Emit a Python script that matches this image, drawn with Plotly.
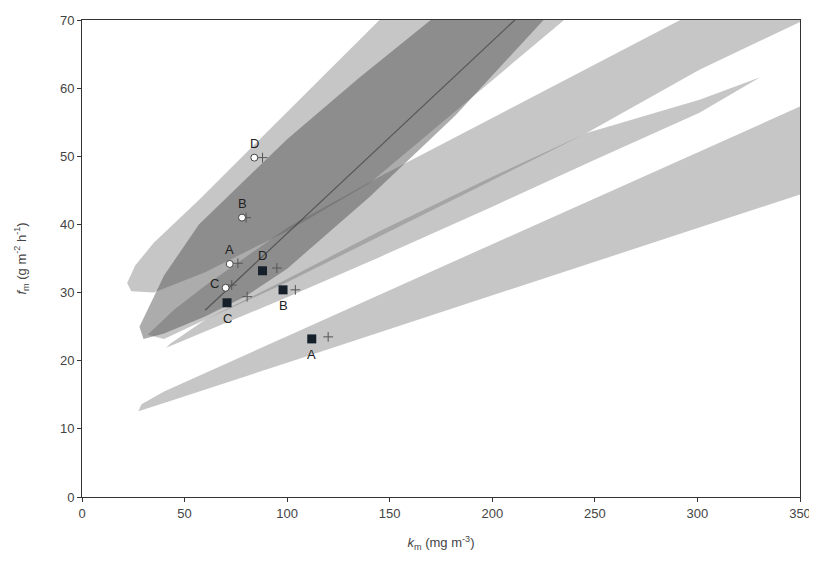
import plotly.graph_objects as go

# ---- shaded bands (outline vertices, data units) ----
band_low_x = [27.5, 40, 100, 200, 300, 350, 350, 300, 200, 100, 40, 29, 27.5]
band_low_y = [12.6, 13.8, 19.7, 29.6, 39.4, 44.4, 57.3, 50.6, 37.1, 23.6, 15.5, 13.6, 12.6]

band_thin_x = [41, 100, 145, 200, 250, 301, 330.6, 301, 246, 200, 145, 100, 60, 43, 41]
band_thin_y = [21.9, 29.3, 35.2, 42.6, 49.5, 56.4, 61.6, 58.3, 53.4, 47, 39, 32, 26, 22.5, 21.9]

band_mid_x = [32, 45, 60, 100, 145, 200, 291.6, 350, 350, 301, 246, 200, 150, 100, 60, 40, 32]
band_mid_y = [23.8, 27.5, 31, 39.5, 47, 55.6, 70, 70, 69.7, 62.7, 53.4, 46.5, 39, 31.5, 26, 23.2, 23.8]

band_up_x = [22, 26, 35, 57, 100, 145, 235, 190, 140, 100, 60, 35, 24, 22]
band_up_y = [31.4, 34, 37.3, 43.6, 56.5, 70, 70, 58.6, 46, 39, 33, 30, 30.2, 31.4]

band_dark_x = [28, 40, 57, 100, 135, 170, 225, 182, 140, 100, 80, 60, 40, 30, 28]
band_dark_y = [25, 32.5, 40, 52.5, 61.5, 70, 70, 56, 44, 33.5, 29.5, 26.5, 24, 23.2, 25]

centre_line_x = [60, 211]
centre_line_y = [27.4, 70]

# ---- observations and model points ----
labels = ["A", "B", "C", "D"]
open_x = [72, 78, 70, 84]
open_y = [34.2, 41, 30.7, 49.8]
filled_x = [112, 98, 70.7, 88]
filled_y = [23.2, 30.4, 28.5, 33.2]
plus_x = [76, 80, 73, 88, 120, 104, 95, 80.5]
plus_y = [34.3, 41, 31.1, 49.8, 23.5, 30.4, 33.6, 29.4]

x_ticks = [0, 50, 100, 150, 200, 250, 300, 350]
y_ticks = [0, 10, 20, 30, 40, 50, 60, 70]

light = "rgba(120,120,120,0.42)"
dark = "rgba(70,70,70,0.45)"
font_family = "Liberation Sans, Arial, sans-serif"

fig = go.Figure()
for bx, by, col in [(band_low_x, band_low_y, light),
                    (band_thin_x, band_thin_y, light),
                    (band_mid_x, band_mid_y, light),
                    (band_up_x, band_up_y, light),
                    (band_dark_x, band_dark_y, dark)]:
    fig.add_trace(go.Scatter(x=bx, y=by, mode="lines", fill="toself",
                             fillcolor=col, line=dict(width=0),
                             hoverinfo="skip", showlegend=False))

fig.add_trace(go.Scatter(x=centre_line_x, y=centre_line_y, mode="lines",
                         line=dict(color="rgba(40,40,40,0.55)", width=1.2),
                         showlegend=False))

fig.add_trace(go.Scatter(x=plus_x, y=plus_y, mode="markers",
                         marker=dict(symbol="cross-thin", size=7,
                                     line=dict(color="#555", width=1)),
                         showlegend=False))

fig.add_trace(go.Scatter(x=open_x, y=open_y, mode="markers",
                         marker=dict(symbol="circle", size=7, color="white",
                                     line=dict(color="#444", width=1)),
                         showlegend=False))

fig.add_trace(go.Scatter(x=filled_x, y=filled_y, mode="markers",
                         marker=dict(symbol="square", size=9, color="#15202b",
                                     line=dict(color="#15202b", width=0)),
                         showlegend=False))

# letter labels: open points (above, C to the left) and filled points (below, D above)
open_shift = [(0, 14), (0, 14), (-11, 4), (0, 14)]
filled_shift = [(0, -16), (0, -16), (0, -16), (0, 15)]
annotations = []
for lab, px, py, (dx, dy) in zip(labels, open_x, open_y, open_shift):
    annotations.append(dict(x=px, y=py, text=lab, showarrow=False, xshift=dx, yshift=dy,
                            font=dict(family=font_family, size=13, color="#222")))
for lab, px, py, (dx, dy) in zip(labels, filled_x, filled_y, filled_shift):
    annotations.append(dict(x=px, y=py, text=lab, showarrow=False, xshift=dx, yshift=dy,
                            font=dict(family=font_family, size=13, color="#222")))

axis_common = dict(showgrid=False, zeroline=False, showline=True, mirror=True,
                   linecolor="#333", linewidth=1, ticks="outside", ticklen=4,
                   tickcolor="#333", automargin=False,
                   tickfont=dict(family=font_family, size=13, color="#444"))

# the page adds an 8px body margin, so the figure is sized/offset to compensate
fig.update_layout(
    width=809, height=557,
    margin=dict(l=74, r=17, t=12, b=68),
    paper_bgcolor="white", plot_bgcolor="white",
    annotations=annotations,
    xaxis=dict(range=[0, 350], tickvals=x_ticks,
               title=dict(text="<i>k</i><sub>m</sub> (mg m<sup>-3</sup>)",
                          font=dict(family=font_family, size=13, color="#444"),
                          standoff=18),
               **axis_common),
    yaxis=dict(range=[0, 70], tickvals=y_ticks,
               title=dict(text="<i>f</i><sub>m</sub> (g m<sup>-2</sup> h<sup>-1</sup>)",
                          font=dict(family=font_family, size=13, color="#444"),
                          standoff=30),
               **axis_common),
)

fig.write_html("out.html")
